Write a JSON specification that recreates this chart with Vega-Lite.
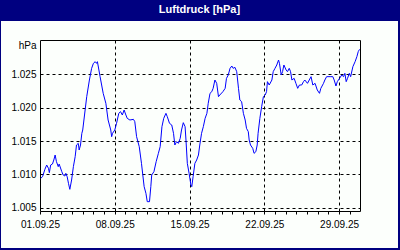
{
  "$schema": "https://vega.github.io/schema/vega-lite/v6.json",
  "width": 397,
  "height": 227,
  "autosize": {"type": "none"},
  "padding": {"left": 1, "top": 21, "right": 2, "bottom": 2},
  "background": "#000080",
  "config": {"view": {"fill": "#fcfffc", "stroke": null}, "font": "Liberation Sans"},
  "title": {"text": "Luftdruck [hPa]", "color": "#ffffff", "font": "Liberation Sans", "fontSize": 11, "fontWeight": "bold", "anchor": "middle", "frame": "group", "baseline": "middle", "offset": 0},
  "data": {"values": [
    {"t":"2025-09-01T02:00","p":1009.4},{"t":"2025-09-01T06:00","p":1009.7},{"t":"2025-09-01T11:00","p":1010.75},{"t":"2025-09-01T15:00","p":1011.4},{"t":"2025-09-01T19:00","p":1010.9},{"t":"2025-09-01T21:00","p":1010.25},
    {"t":"2025-09-02T00:00","p":1011.4},{"t":"2025-09-02T04:00","p":1011.55},{"t":"2025-09-02T07:00","p":1012.15},{"t":"2025-09-02T10:00","p":1012.9},{"t":"2025-09-02T13:00","p":1011.9},{"t":"2025-09-02T17:00","p":1011.15},{"t":"2025-09-02T19:00","p":1011.55},
    {"t":"2025-09-03T01:00","p":1010.4},{"t":"2025-09-03T04:00","p":1009.9},{"t":"2025-09-03T08:00","p":1009.75},{"t":"2025-09-03T10:00","p":1010.15},{"t":"2025-09-03T13:00","p":1009.65},{"t":"2025-09-03T16:00","p":1008.65},{"t":"2025-09-03T19:00","p":1007.75},{"t":"2025-09-03T23:00","p":1009.15},
    {"t":"2025-09-04T03:00","p":1011.15},{"t":"2025-09-04T07:00","p":1012.65},{"t":"2025-09-04T10:00","p":1014.4},{"t":"2025-09-04T14:00","p":1014.65},{"t":"2025-09-04T16:00","p":1013.65},{"t":"2025-09-04T19:00","p":1014.4},{"t":"2025-09-04T22:00","p":1016.15},
    {"t":"2025-09-05T00:00","p":1016.65},{"t":"2025-09-05T09:00","p":1021.65},{"t":"2025-09-05T15:00","p":1024.15},{"t":"2025-09-05T20:00","p":1025.9},
    {"t":"2025-09-06T00:00","p":1026.65},{"t":"2025-09-06T04:00","p":1026.9},{"t":"2025-09-06T07:00","p":1026.65},{"t":"2025-09-06T09:00","p":1026.9},{"t":"2025-09-06T15:00","p":1024.65},{"t":"2025-09-06T22:00","p":1022.15},
    {"t":"2025-09-07T04:00","p":1020.65},{"t":"2025-09-07T09:00","p":1018.15},{"t":"2025-09-07T15:00","p":1016.65},{"t":"2025-09-07T17:00","p":1015.65},{"t":"2025-09-07T19:00","p":1016.15},
    {"t":"2025-09-08T00:00","p":1016.65},{"t":"2025-09-08T04:00","p":1017.65},{"t":"2025-09-08T09:00","p":1019.15},{"t":"2025-09-08T13:00","p":1019.4},{"t":"2025-09-08T17:00","p":1018.9},{"t":"2025-09-08T21:00","p":1019.65},
    {"t":"2025-09-09T01:00","p":1018.9},{"t":"2025-09-09T04:00","p":1018.4},{"t":"2025-09-09T10:00","p":1018.15},{"t":"2025-09-09T18:00","p":1018.25},{"t":"2025-09-09T21:00","p":1017.9},
    {"t":"2025-09-10T01:00","p":1015.65},{"t":"2025-09-10T07:00","p":1014.15},{"t":"2025-09-10T12:00","p":1011.65},{"t":"2025-09-10T15:00","p":1009.9},{"t":"2025-09-10T18:00","p":1008.15},{"t":"2025-09-10T22:00","p":1007.15},
    {"t":"2025-09-11T01:00","p":1005.9},{"t":"2025-09-11T06:00","p":1005.9},{"t":"2025-09-11T09:00","p":1008.15},{"t":"2025-09-11T11:00","p":1009.9},{"t":"2025-09-11T16:00","p":1010.4},{"t":"2025-09-11T21:00","p":1011.9},
    {"t":"2025-09-12T02:00","p":1013.15},{"t":"2025-09-12T06:00","p":1014.15},{"t":"2025-09-12T10:00","p":1017.15},{"t":"2025-09-12T14:00","p":1018.4},{"t":"2025-09-12T19:00","p":1019.15},{"t":"2025-09-12T22:00","p":1018.65},
    {"t":"2025-09-13T03:00","p":1017.65},{"t":"2025-09-13T08:00","p":1017.4},{"t":"2025-09-13T12:00","p":1016.15},{"t":"2025-09-13T15:00","p":1014.4},{"t":"2025-09-13T19:00","p":1014.9},{"t":"2025-09-13T23:00","p":1014.65},
    {"t":"2025-09-14T03:00","p":1015.4},{"t":"2025-09-14T06:00","p":1016.65},{"t":"2025-09-14T10:00","p":1017.75},{"t":"2025-09-14T14:00","p":1017.15},{"t":"2025-09-14T16:00","p":1015.15},{"t":"2025-09-14T19:00","p":1011.65},{"t":"2025-09-14T23:00","p":1010.15},
    {"t":"2025-09-15T03:00","p":1008.4},{"t":"2025-09-15T05:00","p":1008.15},{"t":"2025-09-15T08:00","p":1009.65},{"t":"2025-09-15T12:00","p":1011.65},{"t":"2025-09-15T16:00","p":1012.15},{"t":"2025-09-15T20:00","p":1012.9},{"t":"2025-09-15T23:00","p":1014.4},
    {"t":"2025-09-16T03:00","p":1016.15},{"t":"2025-09-16T07:00","p":1017.15},{"t":"2025-09-16T11:00","p":1018.4},{"t":"2025-09-16T15:00","p":1019.15},{"t":"2025-09-16T18:00","p":1020.65},{"t":"2025-09-16T22:00","p":1022.15},
    {"t":"2025-09-17T02:00","p":1022.4},{"t":"2025-09-17T05:00","p":1022.9},{"t":"2025-09-17T09:00","p":1024.15},{"t":"2025-09-17T13:00","p":1023.65},{"t":"2025-09-17T17:00","p":1021.65},{"t":"2025-09-17T20:00","p":1021.9},
    {"t":"2025-09-18T03:00","p":1022.4},{"t":"2025-09-18T08:00","p":1022.9},{"t":"2025-09-18T11:00","p":1024.4},{"t":"2025-09-18T15:00","p":1024.9},{"t":"2025-09-18T19:00","p":1025.9},{"t":"2025-09-18T23:00","p":1026.25},
    {"t":"2025-09-19T02:00","p":1025.9},{"t":"2025-09-19T06:00","p":1026.05},{"t":"2025-09-19T10:00","p":1025.4},{"t":"2025-09-19T14:00","p":1022.9},{"t":"2025-09-19T17:00","p":1021.15},{"t":"2025-09-19T21:00","p":1020.9},
    {"t":"2025-09-20T01:00","p":1019.15},{"t":"2025-09-20T05:00","p":1018.15},{"t":"2025-09-20T08:00","p":1016.9},{"t":"2025-09-20T12:00","p":1016.4},{"t":"2025-09-20T14:00","p":1015.15},{"t":"2025-09-20T17:00","p":1014.4},{"t":"2025-09-20T22:00","p":1013.9},
    {"t":"2025-09-21T01:00","p":1013.15},{"t":"2025-09-21T05:00","p":1013.4},{"t":"2025-09-21T08:00","p":1014.4},{"t":"2025-09-21T10:00","p":1016.15},{"t":"2025-09-21T14:00","p":1018.4},{"t":"2025-09-21T18:00","p":1020.15},{"t":"2025-09-21T22:00","p":1021.65},
    {"t":"2025-09-22T02:00","p":1021.9},{"t":"2025-09-22T05:00","p":1022.4},{"t":"2025-09-22T07:00","p":1023.9},{"t":"2025-09-22T11:00","p":1023.4},{"t":"2025-09-22T17:00","p":1024.15},{"t":"2025-09-22T20:00","p":1025.4},
    {"t":"2025-09-23T00:00","p":1025.9},{"t":"2025-09-23T04:00","p":1026.4},{"t":"2025-09-23T08:00","p":1027.15},{"t":"2025-09-23T10:00","p":1026.65},{"t":"2025-09-23T14:00","p":1024.9},{"t":"2025-09-23T17:00","p":1025.4},{"t":"2025-09-23T20:00","p":1026.4},
    {"t":"2025-09-24T01:00","p":1025.65},{"t":"2025-09-24T04:00","p":1025.4},{"t":"2025-09-24T08:00","p":1025.9},{"t":"2025-09-24T11:00","p":1025.4},{"t":"2025-09-24T14:00","p":1024.15},{"t":"2025-09-24T19:00","p":1024.4},{"t":"2025-09-24T23:00","p":1023.65},
    {"t":"2025-09-25T03:00","p":1022.9},{"t":"2025-09-25T07:00","p":1023.4},{"t":"2025-09-25T12:00","p":1023.4},{"t":"2025-09-25T16:00","p":1023.9},{"t":"2025-09-25T19:00","p":1024.15},
    {"t":"2025-09-26T01:00","p":1023.65},{"t":"2025-09-26T05:00","p":1024.15},{"t":"2025-09-26T09:00","p":1024.65},{"t":"2025-09-26T13:00","p":1023.4},{"t":"2025-09-26T18:00","p":1023.65},{"t":"2025-09-26T23:00","p":1022.65},
    {"t":"2025-09-27T04:00","p":1022.15},{"t":"2025-09-27T07:00","p":1022.9},{"t":"2025-09-27T13:00","p":1023.65},{"t":"2025-09-27T16:00","p":1024.15},{"t":"2025-09-27T20:00","p":1024.65},
    {"t":"2025-09-28T04:00","p":1024.65},{"t":"2025-09-28T10:00","p":1024.65},{"t":"2025-09-28T13:00","p":1024.15},{"t":"2025-09-28T17:00","p":1023.25},{"t":"2025-09-28T20:00","p":1023.9},
    {"t":"2025-09-29T01:00","p":1024.4},{"t":"2025-09-29T06:00","p":1024.9},{"t":"2025-09-29T10:00","p":1024.65},{"t":"2025-09-29T13:00","p":1025.15},{"t":"2025-09-29T16:00","p":1023.9},{"t":"2025-09-29T19:00","p":1024.4},{"t":"2025-09-29T23:00","p":1025.15},
    {"t":"2025-09-30T02:00","p":1024.65},{"t":"2025-09-30T07:00","p":1026.15},{"t":"2025-09-30T12:00","p":1026.9},{"t":"2025-09-30T16:00","p":1027.65},{"t":"2025-09-30T19:00","p":1028.4},{"t":"2025-09-30T22:00","p":1028.75}
  ]},
  "resolve": {"axis": {"x": "independent", "y": "independent"}},
  "layer": [
    {
      "mark": {"type": "line", "opacity": 0},
      "encoding": {
        "x": {
          "field": "t", "type": "temporal",
          "scale": {"domain": [{"year": 2025, "month": 9, "date": 1}, {"year": 2025, "month": 9, "date": 30, "hours": 23}], "range": [39, 359]},
          "axis": {
            "orient": "top",
            "values": [
              {"year":2025,"month":9,"date":8},{"year":2025,"month":9,"date":15},{"year":2025,"month":9,"date":22},{"year":2025,"month":9,"date":29},
              {"year":2025,"month":9,"date":30,"hours":23}
            ],
            "offset": -19,
            "title": null,
            "labels": false,
            "ticks": false,
            "tickSize": 0,
            "domain": true,
            "domainColor": "#000000",
            "grid": true,
            "gridColor": "#000000",
            "gridDash": {"condition": {"test": "hours(datum.value) == 23", "value": []}, "value": [3, 3]},
            "gridOpacity": 1
          }
        },
        "y": {
          "field": "p", "type": "quantitative",
          "scale": {"domain": [1004.5, 1030.15], "range": [190, 19], "zero": false, "nice": false},
          "axis": null
        }
      }
    },
    {
      "mark": {"type": "line", "color": "#0000ff", "strokeWidth": 1},
      "encoding": {
        "x": {
          "field": "t", "type": "temporal",
          "axis": {
            "orient": "bottom",
            "values": [
              {"year":2025,"month":9,"date":1},{"year":2025,"month":9,"date":2},{"year":2025,"month":9,"date":3},{"year":2025,"month":9,"date":4},{"year":2025,"month":9,"date":5},{"year":2025,"month":9,"date":6},{"year":2025,"month":9,"date":7},{"year":2025,"month":9,"date":8},{"year":2025,"month":9,"date":9},{"year":2025,"month":9,"date":10},
              {"year":2025,"month":9,"date":11},{"year":2025,"month":9,"date":12},{"year":2025,"month":9,"date":13},{"year":2025,"month":9,"date":14},{"year":2025,"month":9,"date":15},{"year":2025,"month":9,"date":16},{"year":2025,"month":9,"date":17},{"year":2025,"month":9,"date":18},{"year":2025,"month":9,"date":19},{"year":2025,"month":9,"date":20},
              {"year":2025,"month":9,"date":21},{"year":2025,"month":9,"date":22},{"year":2025,"month":9,"date":23},{"year":2025,"month":9,"date":24},{"year":2025,"month":9,"date":25},{"year":2025,"month":9,"date":26},{"year":2025,"month":9,"date":27},{"year":2025,"month":9,"date":28},{"year":2025,"month":9,"date":29},{"year":2025,"month":9,"date":30}
            ],
            "labelExpr": "(date(datum.value) - 1) % 7 == 0 ? timeFormat(datum.value, '%d.%m.%y') : ''",
            "offset": -37,
            "title": null,
            "grid": false,
            "domainColor": "#000000",
            "tickColor": "#000000",
            "tickSize": 3,
            "labelColor": "#000000",
            "labelFont": "Liberation Sans",
            "labelFontSize": 10,
            "labelPadding": 5,
            "labelDx": -2,
            "labelOverlap": false,
            "labelFlush": false,
            "labelBound": false
          }
        },
        "y": {
          "field": "p", "type": "quantitative",
          "axis": {
            "orient": "left",
            "values": [1005, 1010, 1015, 1020, 1025],
            "labelExpr": "replace(format(datum.value, ','), ',', '.')",
            "offset": -39,
            "ticks": false,
            "tickSize": 0,
            "labelPadding": 4,
            "domainColor": "#000000",
            "labelColor": "#000000",
            "labelFont": "Liberation Sans",
            "labelFontSize": 10,
            "grid": true,
            "gridColor": "#000000",
            "gridDash": [3, 3],
            "gridOpacity": 1,
            "title": "hPa",
            "titleAngle": 0,
            "titleAlign": "right",
            "titleBaseline": "middle",
            "titleX": -4,
            "titleY": 24,
            "titleFont": "Liberation Sans",
            "titleFontSize": 10,
            "titleFontWeight": "normal",
            "titleColor": "#000000"
          }
        }
      }
    }
  ]
}
